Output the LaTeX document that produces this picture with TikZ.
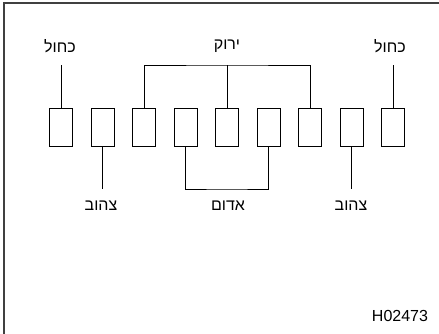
\documentclass[tikz,border=0pt]{standalone}
\usepackage{fontspec}
\setmainfont{Liberation Sans}
\newfontfamily\heb[Script=Hebrew]{Liberation Sans}
\TeXXeTstate=1
\usetikzlibrary{positioning}

\begin{document}
\begin{tikzpicture}[x=1pt, y=-1pt,
    slot/.style={draw, line width=0.9pt, minimum width=23pt, minimum height=38pt, inner sep=0pt},
    wire/.style={line width=0.9pt},
    lbl/.style={font=\heb\fontsize{16}{18}\selectfont, inner sep=0pt}
]
\useasboundingbox (0,0) rectangle (439,334);
\draw[line width=2pt, black!75] (4,334) -- (4,3) -- (439,3);

% nine connector slots
\foreach \i in {1,...,9}
  \node[slot] (b\i) at ({61+41.5*(\i-1)},127) {};

\coordinate (up) at (227,65);
\coordinate (dn) at (227,189);

% top labels
\node[lbl] (blueL) at (60,46) {\beginR כחול\endR};
\node[lbl] (green) at (227,46) {\beginR ירוק\endR};
\node[lbl] (blueR) at (390,46) {\beginR כחול\endR};

% bottom labels
\node[lbl] (yelL) at (101,206) {\beginR צהוב\endR};
\node[lbl] (red) at (228,206) {\beginR אדום\endR};
\node[lbl] (yelR) at (351,206) {\beginR צהוב\endR};

\node[font=\fontsize{16}{18}\selectfont, inner sep=0pt] (code) at (400,316) {H02473};

\draw[wire] (b1.north) -- (b1.north |- up);
\draw[wire] (b9.north) -- (b9.north |- up);
\draw[wire] (b3.north) |- (up) -| (b7.north);
\draw[wire] (b5.north) -- (up);

\draw[wire] (b2.south) -- (b2.south |- dn);
\draw[wire] (b8.south) -- (b8.south |- dn);
\draw[wire] (b4.south) |- (dn) -| (b6.south);
\end{tikzpicture}
\end{document}
